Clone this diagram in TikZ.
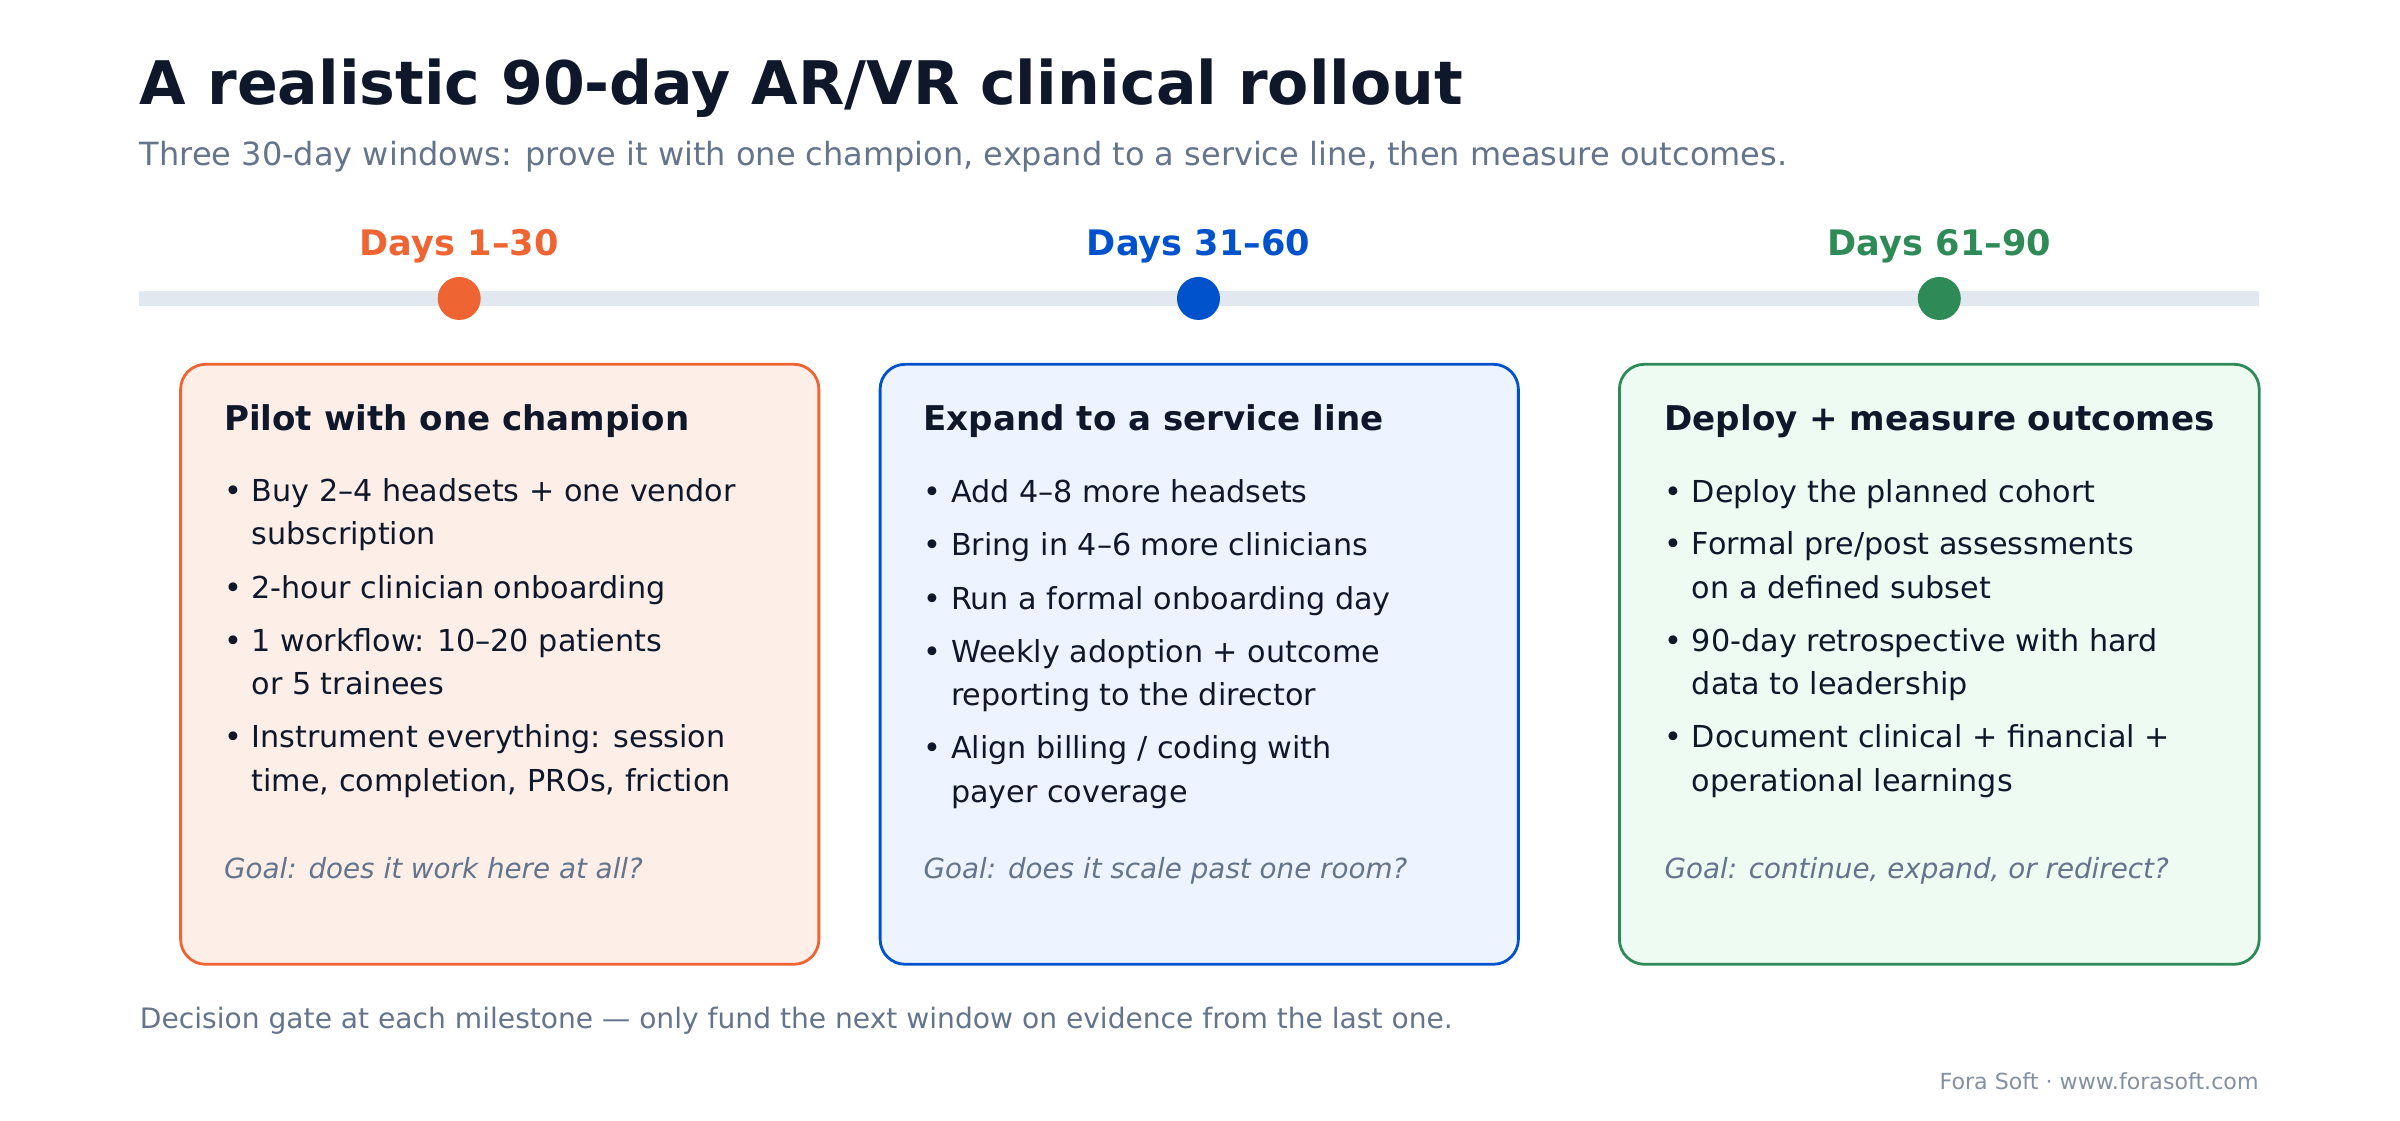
\documentclass[tikz,border=0pt]{standalone}
\usepackage{fontspec}
\setmainfont{DejaVu Sans}
\usetikzlibrary{positioning}
\definecolor{ink}{HTML}{0F172A}
\definecolor{slate}{HTML}{64748B}
\definecolor{track}{HTML}{E2E8F0}
\definecolor{pilot}{HTML}{EE6433}
\definecolor{pilotbg}{HTML}{FDEEE8}
\definecolor{expand}{HTML}{0052CC}
\definecolor{expandbg}{HTML}{EEF4FF}
\definecolor{deploy}{HTML}{2E8B57}
\definecolor{deploybg}{HTML}{EEFBF2}
\begin{document}
\begin{tikzpicture}[x=0.015306cm, y=-0.015306cm,
    % Define styles
    phase/.style={
        draw,
        rounded corners=0.25cm,
        line width=0.8pt
    },
    dayslabel/.style={
        font=\fontsize{10}{12}\selectfont\bfseries,
        anchor=base
    },
    milestone/.style={
        circle,
        minimum size=0.43cm,
        inner sep=0pt
    },
    boxtitle/.style={
        font=\fontsize{9.7}{12}\selectfont\bfseries,
        text=ink,
        anchor=base west,
        inner sep=0pt
    },
    bullet/.style={
        font=\fontsize{8.6}{12.4}\selectfont,
        text=ink,
        align=left,
        anchor=base west,
        inner sep=0pt
    },
    goal/.style={
        font=\fontsize{7.9}{10}\selectfont\itshape,
        text=slate,
        anchor=base west,
        inner sep=0pt
    }
]

\useasboundingbox (0,0) rectangle (1568,732);

% Title
\node[font=\fontsize{17.1}{20}\selectfont\bfseries, text=ink, anchor=base west, inner sep=0pt] (title) at (91,68) {A realistic 90-day AR/VR clinical rollout};
\node[font=\fontsize{9.1}{11}\selectfont, text=slate, anchor=base west, inner sep=0pt] (subtitle) at (91,108) {Three 30-day windows: prove it with one champion, expand to a service line, then measure outcomes.};

% Timeline
\coordinate (trackW) at (91,195);
\coordinate (trackE) at (1476,195);
\draw[track, line width=1.5mm] (trackW) -- (trackE);
\node[milestone, fill=pilot] (dotA) at (300,195) {};
\node[milestone, fill=expand] (dotB) at (783,195) {};
\node[milestone, fill=deploy] (dotC) at (1267,195) {};
\node[dayslabel, text=pilot] (daysA) at (300,167) {Days 1–30};
\node[dayslabel, text=expand] (daysB) at (783,167) {Days 31–60};
\node[dayslabel, text=deploy] (daysC) at (1267,167) {Days 61–90};

% Phase boxes
\draw[phase, draw=pilot, fill=pilotbg] (118,238) rectangle (535,630);
\draw[phase, draw=expand, fill=expandbg] (575,238) rectangle (992,630);
\draw[phase, draw=deploy, fill=deploybg] (1058,238) rectangle (1476,630);

% Pilot (two-line nodes sit on their last baseline)
\node[boxtitle] (pilotT) at (146,281) {Pilot with one champion};
\node[bullet] (pilot1) at (146,356) {• Buy 2–4 headsets + one vendor\\\phantom{• }subscription};
\node[bullet] (pilot2) at (146,391) {• 2-hour clinician onboarding};
\node[bullet] (pilot3) at (146,454) {• 1 workflow: 10–20 patients\\\phantom{• }or 5 trainees};
\node[bullet] (pilot4) at (146,517) {• Instrument everything: session\\\phantom{• }time, completion, PROs, friction};
\node[goal] (pilotG) at (146,574) {Goal: does it work here at all?};

% Expand
\node[boxtitle] (expandT) at (603,281) {Expand to a service line};
\node[bullet] (expand1) at (603,328) {• Add 4–8 more headsets};
\node[bullet] (expand2) at (603,363) {• Bring in 4–6 more clinicians};
\node[bullet] (expand3) at (603,398) {• Run a formal onboarding day};
\node[bullet] (expand4) at (603,461) {• Weekly adoption + outcome\\\phantom{• }reporting to the director};
\node[bullet] (expand5) at (603,524) {• Align billing / coding with\\\phantom{• }payer coverage};
\node[goal] (expandG) at (603,574) {Goal: does it scale past one room?};

% Deploy
\node[boxtitle] (deployT) at (1087,281) {Deploy + measure outcomes};
\node[bullet] (deploy1) at (1087,328) {• Deploy the planned cohort};
\node[bullet] (deploy2) at (1087,391) {• Formal pre/post assessments\\\phantom{• }on a defined subset};
\node[bullet] (deploy3) at (1087,454) {• 90-day retrospective with hard\\\phantom{• }data to leadership};
\node[bullet] (deploy4) at (1087,517) {• Document clinical + financial +\\\phantom{• }operational learnings};
\node[goal] (deployG) at (1087,574) {Goal: continue, expand, or redirect?};

% Footer
\node[font=\fontsize{8}{10}\selectfont, text=slate, anchor=base west, inner sep=0pt] (footer) at (91,672) {Decision gate at each milestone — only fund the next window on evidence from the last one.};
\node[font=\fontsize{6.3}{8}\selectfont, text=slate!80!white, anchor=base east, inner sep=0pt] (credit) at (1476,712) {Fora Soft · www.forasoft.com};

\end{tikzpicture}
\end{document}
